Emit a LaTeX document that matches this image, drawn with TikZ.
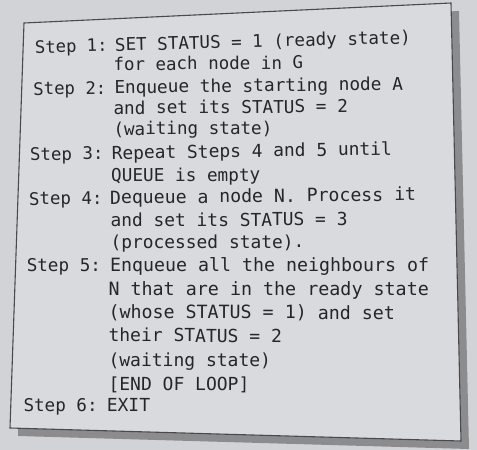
\documentclass[tikz,border=0pt]{standalone}
\usepackage{fontspec}
\setmonofont{DejaVu Sans Mono}
\definecolor{pagebg}{HTML}{D2D3D7}
\definecolor{boxbg}{HTML}{D9DADD}
\definecolor{shadowc}{HTML}{8C8C8E}
\definecolor{edgec}{HTML}{4A4A4C}
\definecolor{inkc}{HTML}{262628}
\tikzset{
  txt/.style={anchor=base west, inner sep=0pt, outer sep=0pt, text=inkc,
              font=\fontsize{#1}{#1}\selectfont\ttfamily},
  boxline/.style={draw=edgec, line width=1.1pt, fill=boxbg, line join=miter},
  shadowfill/.style={fill=shadowc, draw=none}
}
\begin{document}
\begin{tikzpicture}[x=1pt, y=-1pt]
\useasboundingbox (0,0) rectangle (477,450);
\fill[pagebg] (0,0) rectangle (477,450);
% shadow and box
\coordinate (tl) at (24,23);
\coordinate (tr) at (451,3);
\coordinate (br) at (461,441);
\coordinate (bl) at (10,428);
\fill[shadowfill] ([shift={(8,8)}]tl) -- ([shift={(8,8)}]tr) -- ([shift={(8,8)}]br) -- ([shift={(8,8)}]bl) -- cycle;
\path[boxline] (tl) -- (tr) -- (br) -- (bl) -- cycle;
% Step 1
\node[txt=17.2, rotate=1.5] (s1)  at (35.2,53.3)  {Step 1:};
\node[txt=17.55,rotate=1.5] (l1)  at (115.2,51.2) {SET STATUS = 1 (ready state)};
\node[txt=17.5, rotate=0.5] (l2)  at (113.5,70.5) {for each node in G};
% Step 2
\node[txt=17.3, rotate=0.7] (s2)  at (33.5,95)    {Step 2:};
\node[txt=17.75,rotate=0.7] (l3)  at (114.5,93.6) {Enqueue the starting node A};
\node[txt=17.7, rotate=0.4] (l4)  at (113.5,114.2){and set its STATUS = 2};
\node[txt=17.6, rotate=0.4] (l5)  at (113.5,135.2){(waiting state)};
% Step 3
\node[txt=17.4, rotate=0.9] (s3)  at (30.2,160.7) {Step 3:};
\node[txt=17.9, rotate=0.9] (l6)  at (111.8,159.4){Repeat Steps 4 and 5 until};
\node[txt=17.7, rotate=0.3] (l7)  at (111.2,181.7){QUEUE is empty};
% Step 4
\node[txt=17.4, rotate=0.65](s4)  at (29.2,205)   {Step 4:};
\node[txt=18.15,rotate=0.65](l8)  at (110.2,204.1){Dequeue a node N. Process it};
\node[txt=17.9, rotate=0.25](l9)  at (110.5,226.7){and set its STATUS = 3};
\node[txt=17.9, rotate=0.2] (l10) at (110.5,248.6){(processed state).};
% Step 5
\node[txt=17.6, rotate=0]   (s5)  at (26.8,271.7) {Step 5:};
\node[txt=18.27,rotate=0]   (l11) at (110.2,271.7){Enqueue all the neighbours of};
\node[txt=18.35,rotate=0]   (l12) at (108.5,295.7){N that are in the ready state};
\node[txt=18.3, rotate=-0.2](l13) at (108.5,318.3){(whose STATUS = 1) and set};
\node[txt=18.0, rotate=-0.2](l14) at (108.5,341.7){their STATUS = 2};
\node[txt=18.0, rotate=-0.2](l15) at (108.5,366)  {(waiting state)};
\node[txt=18.0, rotate=-0.2](l16) at (108.5,390)  {[END OF LOOP]};
% Step 6
\node[txt=17.6, rotate=-0.2](s6)  at (23.5,411.7) {Step 6:};
\node[txt=18.0, rotate=-0.2](l17) at (106.8,411.7){EXIT};
\end{tikzpicture}
\end{document}
